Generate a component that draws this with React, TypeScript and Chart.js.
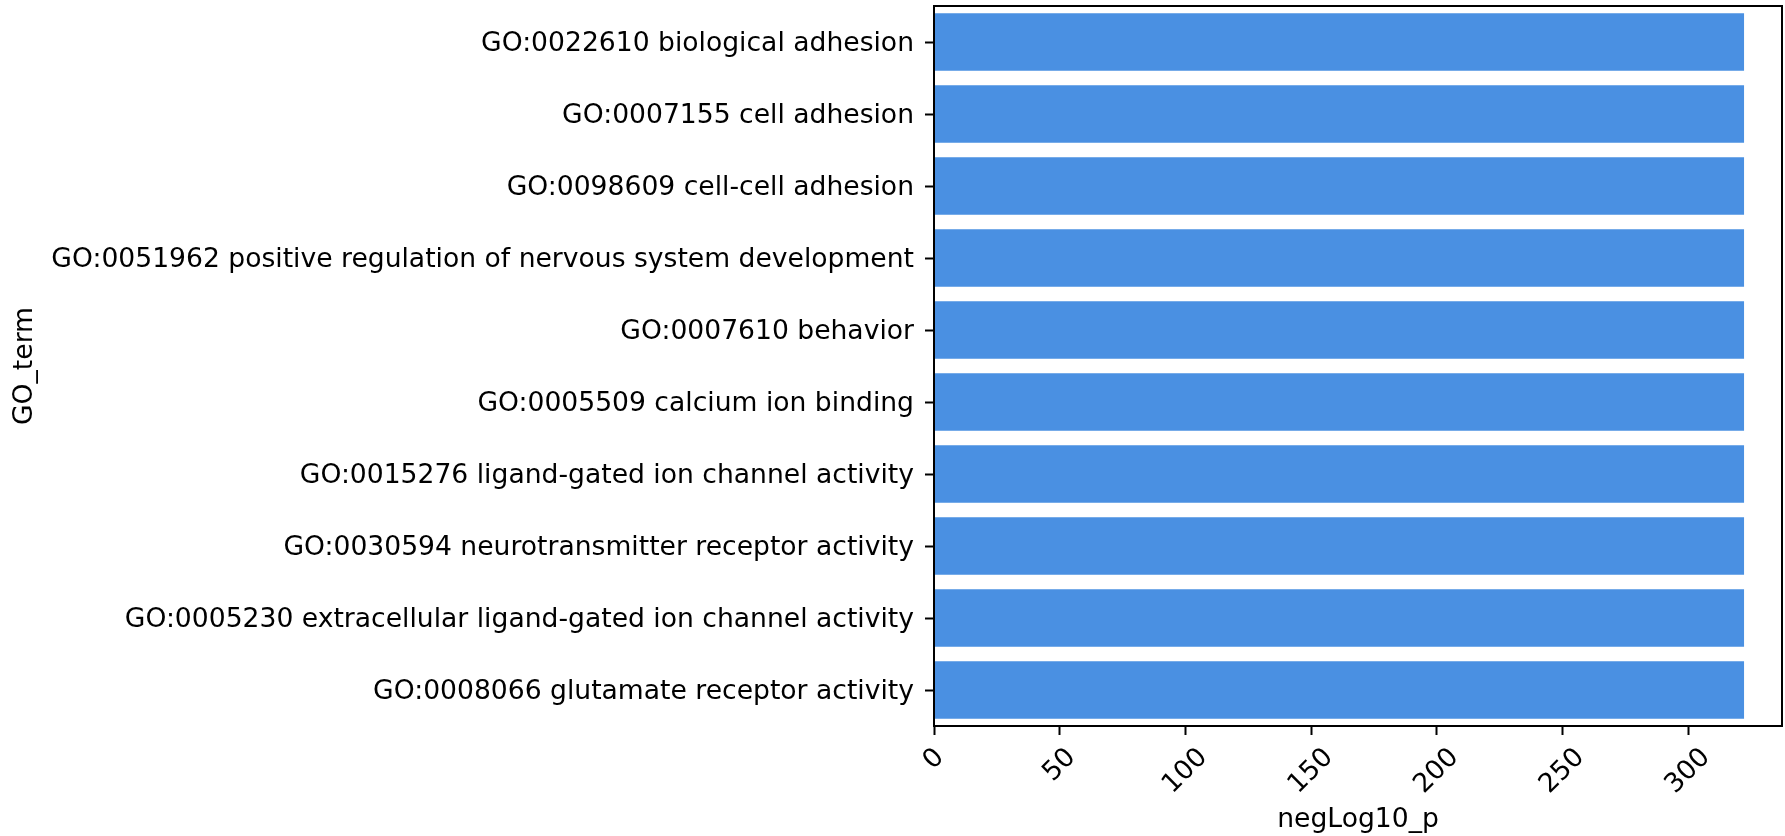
import React, { useEffect, useRef } from "react";
import { Chart, registerables } from "chart.js";

Chart.register(...registerables);

const categories: string[] = [
  "GO:0022610 biological adhesion",
  "GO:0007155 cell adhesion",
  "GO:0098609 cell-cell adhesion",
  "GO:0051962 positive regulation of nervous system development",
  "GO:0007610 behavior",
  "GO:0005509 calcium ion binding",
  "GO:0015276 ligand-gated ion channel activity",
  "GO:0030594 neurotransmitter receptor activity",
  "GO:0005230 extracellular ligand-gated ion channel activity",
  "GO:0008066 glutamate receptor activity",
];

const negLog10P: number[] = [322.3, 322.3, 322.3, 322.3, 322.3, 322.3, 322.3, 322.3, 322.3, 322.3];

const xTicks: number[] = [0, 50, 100, 150, 200, 250, 300];
const xTickLabels: string[] = ["0", "50", "100", "150", "200", "250", "300"];

const X_MAX = 337.4;
const FONT_FAMILY = '"DejaVu Sans", "Liberation Sans", sans-serif';
const FONT_SIZE = 26.6;

const framePlugin = {
  id: "frame",
  afterDatasetsDraw(chart: any) {
    const { ctx, chartArea } = chart;
    ctx.save();
    ctx.strokeStyle = "#000";
    ctx.lineWidth = 2;
    ctx.strokeRect(
      chartArea.left,
      chartArea.top,
      chartArea.right - chartArea.left,
      chartArea.bottom - chartArea.top
    );
    ctx.restore();
  },
};

const rotatedTicksPlugin = {
  id: "rotatedTicks",
  afterDraw(chart: any) {
    const { ctx, chartArea } = chart;
    const scale = chart.scales.x;
    ctx.save();
    ctx.fillStyle = "#000";
    ctx.font = `${FONT_SIZE}px ${FONT_FAMILY}`;
    ctx.textAlign = "center";
    ctx.textBaseline = "alphabetic";
    xTicks.forEach((v, i) => {
      const label = xTickLabels[i];
      const x = scale.getPixelForValue(v);
      const w = ctx.measureText(label).width;
      const h = FONT_SIZE;
      const box = (w + h) * Math.SQRT1_2;
      const cy = chartArea.bottom + 9 + 9 + box / 2;
      ctx.save();
      ctx.translate(x, cy);
      ctx.rotate(-Math.PI / 4);
      ctx.fillText(label, 0, 0.262 * FONT_SIZE);
      ctx.restore();
    });
    ctx.restore();
  },
};

export default function App() {
  const canvasRef = useRef<HTMLCanvasElement | null>(null);

  useEffect(() => {
    if (!canvasRef.current) return;
    const chart = new Chart(canvasRef.current, {
      type: "bar",
      data: {
        labels: categories,
        datasets: [
          {
            label: "negLog10_p",
            data: negLog10P,
            backgroundColor: "#4A90E2",
            borderWidth: 0,
            categoryPercentage: 0.8,
            barPercentage: 1.0,
          },
        ],
      },
      options: {
        indexAxis: "y",
        responsive: false,
        animation: false,
        devicePixelRatio: 1,
        layout: { padding: { top: 6, right: 3, bottom: 0, left: 0 } },
        plugins: {
          legend: { display: false },
          tooltip: { enabled: false },
        },
        scales: {
          x: {
            type: "linear",
            position: "bottom",
            min: 0,
            max: X_MAX,
            afterBuildTicks: (s: any) => {
              s.ticks = xTicks.map((v) => ({ value: v }));
            },
            afterFit: (s: any) => {
              s.height = 110;
              s.paddingLeft = 0;
              s.paddingRight = 0;
              s.paddingTop = 0;
              s.paddingBottom = 0;
            },
            ticks: { display: false },
            grid: {
              display: true,
              drawOnChartArea: false,
              drawTicks: true,
              tickLength: 9,
              tickWidth: 2,
              tickColor: "#000",
              color: "#000",
            },
            border: { display: false },
            title: {
              display: true,
              text: "negLog10_p",
              color: "#000",
              font: { family: FONT_FAMILY, size: FONT_SIZE },
              padding: { top: 0, bottom: 0 },
            },
          },
          y: {
            type: "category",
            position: "left",
            offset: true,
            afterFit: (s: any) => {
              s.width = 934;
              s.paddingLeft = 0;
              s.paddingRight = 0;
              s.paddingTop = 0;
              s.paddingBottom = 0;
            },
            ticks: {
              color: "#000",
              autoSkip: false,
              padding: 11,
              labelOffset: 2.5,
              font: { family: FONT_FAMILY, size: FONT_SIZE },
            },
            grid: {
              display: true,
              offset: false,
              drawOnChartArea: false,
              drawTicks: true,
              tickLength: 9,
              tickWidth: 2,
              tickColor: "#000",
              color: "#000",
            },
            border: { display: false },
            title: {
              display: true,
              text: "GO_term",
              color: "#000",
              font: { family: FONT_FAMILY, size: FONT_SIZE },
              padding: { top: 9, bottom: 0 },
            },
          },
        },
      },
      plugins: [framePlugin, rotatedTicksPlugin],
    } as any);
    return () => chart.destroy();
  }, []);

  return (
    <div
      style={{
        position: "fixed",
        left: 0,
        top: 0,
        width: 1785,
        height: 836,
        background: "#fff",
      }}
    >
      <canvas ref={canvasRef} width={1785} height={836} style={{ width: 1785, height: 836 }} />
    </div>
  );
}
